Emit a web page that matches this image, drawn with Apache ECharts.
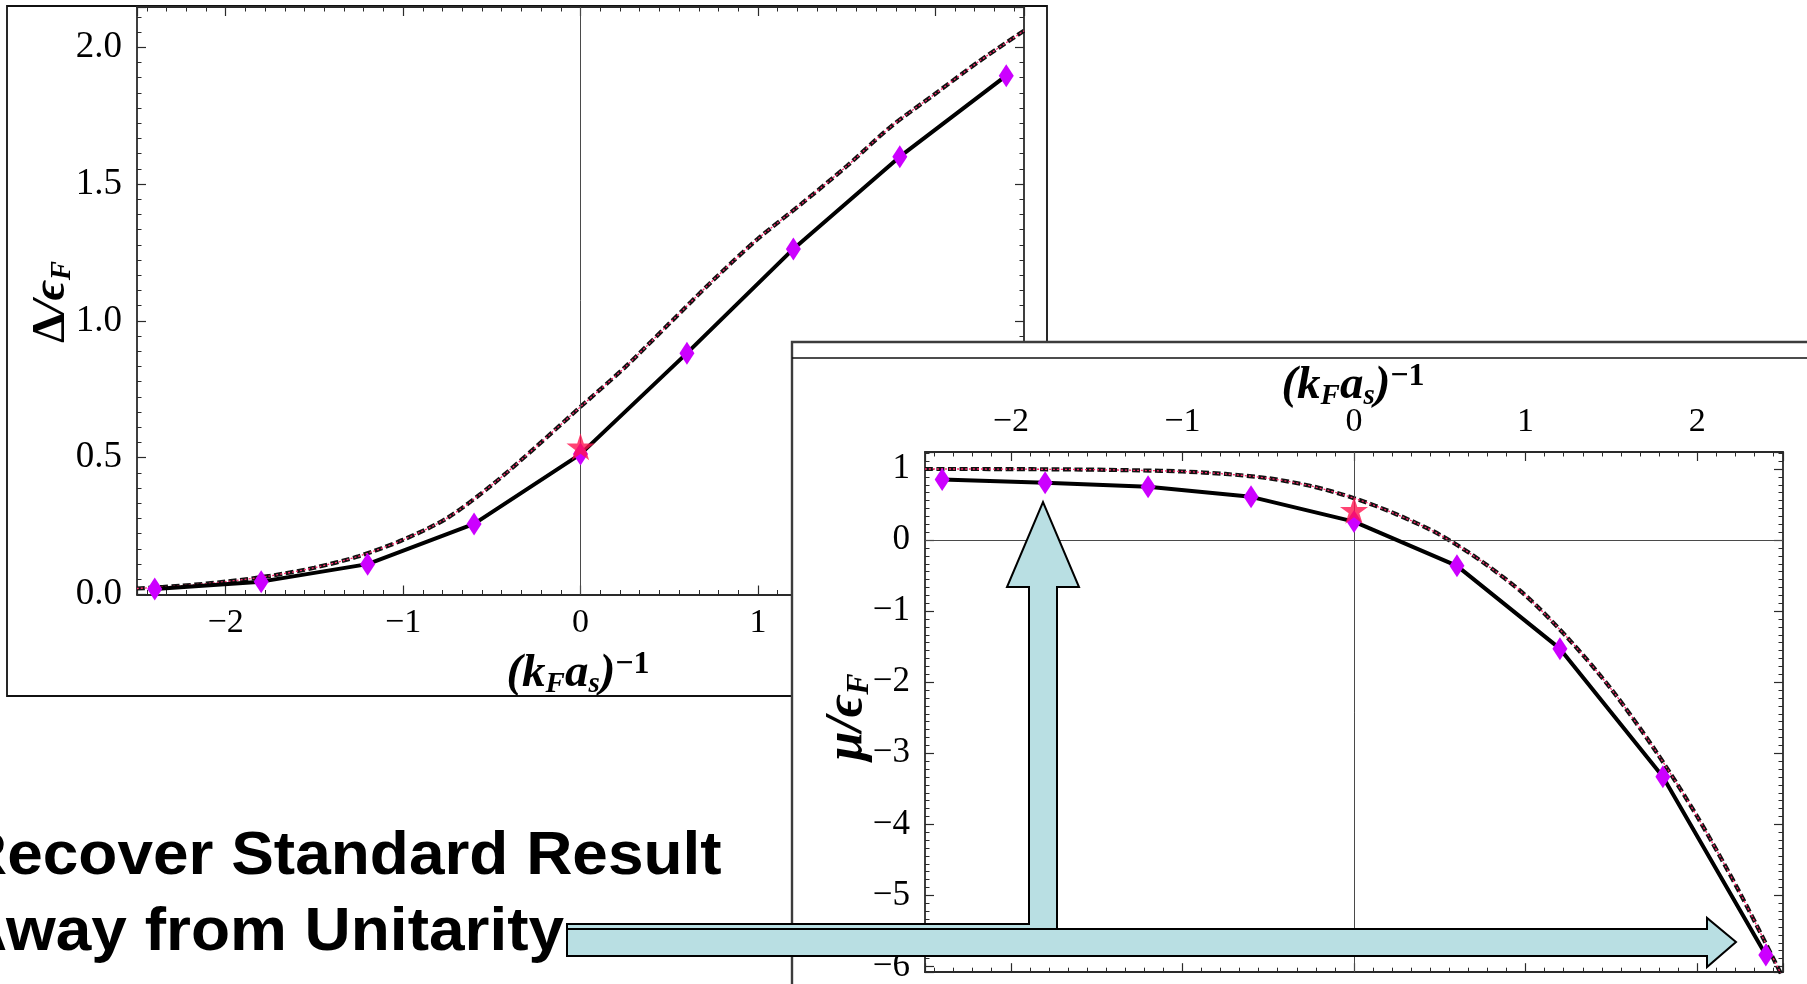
<!DOCTYPE html>
<html>
<head>
<meta charset="utf-8">
<script src="https://cdn.jsdelivr.net/npm/echarts@6/dist/echarts.min.js"></script>
<style>
  html, body { margin: 0; padding: 0; background: #fff; overflow: hidden; }
  #gapChart, #muChart { position: absolute; left: 0; top: 0; width: 1807px; height: 984px; }
</style>
</head>
<body>
<div id="gapChart"></div>
<div id="muChart"></div>
<script>
// ---- data -------------------------------------------------------------
// coupling (k_F a_s)^-1 at which the crossover was computed
const couplingPoints = [-2.4, -1.8, -1.2, -0.6, 0, 0.6, 1.2, 1.8, 2.4];
// gap Δ/ε_F at those couplings
const gapPoints = [0.020, 0.047, 0.111, 0.258, 0.513, 0.882, 1.263, 1.600, 1.896];
// chemical potential μ/ε_F at those couplings
const muPoints = [0.852, 0.806, 0.751, 0.608, 0.26, -0.363, -1.528, -3.33, -5.837];
// values at unitarity (star markers)
const unitarityGap = 0.54;
const unitarityMu = 0.42;
// mean-field reference curves
const meanFieldCoupling = [-2.5, -2.25, -2.0, -1.75, -1.5, -1.25, -1.0, -0.75, -0.5, -0.25, 0,
                           0.25, 0.5, 0.75, 1.0, 1.25, 1.5, 1.75, 2.0, 2.25, 2.5];
const meanFieldGap = [0.022, 0.032, 0.047, 0.068, 0.098, 0.14, 0.20, 0.28, 0.40, 0.54, 0.686,
                      0.83, 0.99, 1.15, 1.30, 1.43, 1.565, 1.71, 1.83, 1.95, 2.06];
const meanFieldMu = [1.0, 1.0, 0.998, 0.995, 0.99, 0.98, 0.965, 0.93, 0.87, 0.76, 0.59,
                     0.36, 0.075, -0.31, -0.78, -1.39, -2.10, -2.94, -3.89, -4.97, -6.16];
// tick labels
const couplingTicks = [-2, -1, 0, 1, 2];
const couplingTickLabels = ['\u22122', '\u22121', '0', '1', '2'];
const gapTicks = [0, 0.5, 1, 1.5, 2];
const gapTickLabels = ['0.0', '0.5', '1.0', '1.5', '2.0'];
const muTicks = [-6, -5, -4, -3, -2, -1, 0, 1];
const muTickLabels = ['\u22126', '\u22125', '\u22124', '\u22123', '\u22122', '\u22121', '0', '1'];

// ---- helpers ----------------------------------------------------------
const SERIF = '"Liberation Serif", "Times New Roman", serif';
const SANS = '"Liberation Sans", Arial, sans-serif';
const zip = (xs, ys) => xs.map((x, i) => [x, ys[i]]);
const lookup = (ticks, labels) => v => {
  const i = ticks.findIndex(t => Math.abs(t - v) < 1e-9);
  return i >= 0 ? labels[i] : '';
};
const STAR = 'path://M50,0 L61.8,36.2 L100,36.2 L69.1,58.6 L80.9,95 L50,72.6 L19.1,95 L30.9,58.6 L0,36.2 L38.2,36.2 Z';

function frameAxis(pos, min, max, step, split, labelCfg) {
  return {
    type: 'value', position: pos, min: min, max: max,
    minInterval: step, maxInterval: step, splitNumber: split,
    axisLine: { show: true, onZero: false, lineStyle: { color: '#2a2a2a', width: 1.8 } },
    axisTick: { show: true, inside: true, length: 9, lineStyle: { color: '#2a2a2a', width: 1.2 } },
    minorTick: { show: true, splitNumber: 9, length: 4.5, lineStyle: { color: '#2a2a2a', width: 1 } },
    splitLine: { show: false },
    axisLabel: labelCfg ? labelCfg : { show: false }
  };
}

function markerLine(data) {
  return {
    type: 'line', data: [], z: 1, silent: true,
    markLine: {
      silent: true, symbol: 'none', label: { show: false }, animation: false,
      lineStyle: { color: '#4a4a4a', width: 1, type: 'solid' },
      data: data
    }
  };
}

function curveSeries(xs, ys, xi, yi) {
  return [
    {
      type: 'line', data: zip(xs, ys), xAxisIndex: xi, yAxisIndex: yi,
      showSymbol: false, symbol: 'none', smooth: 0.3, z: 3, silent: true,
      lineStyle: { color: '#111', width: 4.2, type: [8, 3.5] }
    },
    {
      type: 'line', data: zip(xs, ys), xAxisIndex: xi, yAxisIndex: yi,
      showSymbol: false, symbol: 'none', smooth: 0.3, z: 4, silent: true,
      lineStyle: { color: '#ff2a6d', width: 1.3, type: [2, 2] }
    }
  ];
}

function pointSeries(xs, ys, star, xi, yi) {
  return [
    {
      type: 'line', data: zip(xs, ys), xAxisIndex: xi, yAxisIndex: yi,
      symbol: 'diamond', symbolSize: [15, 23], showSymbol: true, z: 5, silent: true,
      lineStyle: { color: '#000', width: 4 },
      itemStyle: { color: '#cc00ff', borderWidth: 0 }
    },
    {
      type: 'scatter', data: [[0, star]], xAxisIndex: xi, yAxisIndex: yi,
      symbol: STAR, symbolSize: [28, 27], z: 6, silent: true,
      itemStyle: { color: '#ff1450' }
    }
  ];
}

function axisTitle(x, y, rotation, main, size) {
  const sub = Math.round(size * 0.62);
  return {
    type: 'text', x: x, y: y, rotation: rotation, z: 50,
    style: {
      text: main, align: 'center', verticalAlign: 'middle',
      rich: {
        m: { fontFamily: SERIF, fontWeight: 'bold', fontStyle: 'italic', fontSize: size, lineHeight: size + 4, fill: '#000' },
        u: { fontFamily: SERIF, fontWeight: 'bold', fontSize: size, lineHeight: size + 4, fill: '#000' },
        s: { fontFamily: SERIF, fontWeight: 'bold', fontStyle: 'italic', fontSize: sub, lineHeight: sub + 4, verticalAlign: 'bottom', fill: '#000' },
        p: { fontFamily: SERIF, fontWeight: 'bold', fontSize: Math.round(size * 0.68), lineHeight: sub + 4, verticalAlign: 'top', fill: '#000' }
      }
    }
  };
}

// ---- Δ/ε_F panel --------------------------------------------------------
const gapChart = echarts.init(document.getElementById('gapChart'), null, { renderer: 'canvas' });
const xLabel1 = { show: true, margin: 12, fontFamily: SERIF, fontSize: 34, color: '#000', formatter: lookup(couplingTicks, couplingTickLabels) };
const yLabel1 = { show: true, margin: 15, fontFamily: SERIF, fontSize: 37, color: '#000', formatter: lookup(gapTicks, gapTickLabels) };
gapChart.setOption({
  animation: false,
  backgroundColor: '#fff',
  grid: { left: 137, top: 7, width: 887, height: 587.5 },
  xAxis: [
    frameAxis('bottom', -2.5, 2.5, 1, 5, xLabel1),
    frameAxis('top', -2.5, 2.5, 1, 5, null)
  ],
  yAxis: [
    frameAxis('left', 0, 2.147, 0.5, 4, yLabel1),
    frameAxis('right', 0, 2.147, 0.5, 4, null)
  ],
  series: [
    markerLine([{ xAxis: 0 }]),
    ...curveSeries(meanFieldCoupling, meanFieldGap, 0, 0),
    ...pointSeries(couplingPoints, gapPoints, unitarityGap, 0, 0)
  ],
  graphic: [
    { type: 'rect', shape: { x: 7, y: 6, width: 1040, height: 690 }, z: -10,
      style: { fill: 'none', stroke: '#111', lineWidth: 1.8 } },
    axisTitle(578, 674, 0, '{m|(k}{s|F}{m|a}{s|s}{m|)}{p|\u22121}', 47),
    axisTitle(52, 302, Math.PI / 2, '{u|\u0394}{m|/\u03f5}{s|F}', 47)
  ]
});

// ---- μ/ε_F panel with arrows and caption --------------------------------
const muChart = echarts.init(document.getElementById('muChart'), null, { renderer: 'canvas' });
const xLabel2 = { show: true, margin: 13, fontFamily: SERIF, fontSize: 34, color: '#000', formatter: lookup(couplingTicks, couplingTickLabels) };
const yLabel2 = { show: true, margin: 15, fontFamily: SERIF, fontSize: 35, color: '#000', formatter: lookup(muTicks, muTickLabels) };
const ARROW_FILL = '#b9dfe3';
muChart.setOption({
  animation: false,
  grid: { left: 925, top: 452, width: 858, height: 530 },
  xAxis: [
    frameAxis('top', -2.5, 2.5, 1, 5, xLabel2),
    frameAxis('bottom', -2.5, 2.5, 1, 5, null)
  ],
  yAxis: [
    frameAxis('left', -6.08, 1.239, 1, 7, yLabel2),
    frameAxis('right', -6.08, 1.239, 1, 7, null)
  ],
  series: [
    markerLine([{ xAxis: 0 }, { yAxis: 0 }]),
    ...curveSeries(meanFieldCoupling, meanFieldMu, 0, 0),
    ...pointSeries(couplingPoints, muPoints, unitarityMu, 0, 0)
  ],
  graphic: [
    { type: 'rect', shape: { x: 792, y: 342, width: 1100, height: 700 }, z: -100,
      style: { fill: '#fff', stroke: '#3c3c3c', lineWidth: 2.4 } },
    { type: 'line', shape: { x1: 792, y1: 358, x2: 1807, y2: 358 }, z: -99,
      style: { stroke: '#111', lineWidth: 1.6 } },
    axisTitle(1353, 386, 0, '{m|(k}{s|F}{m|a}{s|s}{m|)}{p|\u22121}', 47),
    axisTitle(848, 717, Math.PI / 2, '{m|\u03bc/\u03f5}{s|F}', 52),
    { type: 'polygon', z: 100,
      shape: { points: [[567, 924], [1029, 924], [1029, 587], [1007, 587], [1043, 502], [1079, 587], [1057, 587], [1057, 945], [567, 945]] },
      style: { fill: ARROW_FILL, stroke: '#000', lineWidth: 2 } },
    { type: 'polygon', z: 101,
      shape: { points: [[567, 929], [1707, 929], [1707, 918], [1736, 942], [1707, 967], [1707, 956], [567, 956]] },
      style: { fill: ARROW_FILL, stroke: '#000', lineWidth: 2 } },
    { type: 'text', x: -39, y: 857, scaleX: 1.04, z: 102,
      style: { text: 'Recover Standard Result', font: 'bold 61.5px ' + SANS, fill: '#000', verticalAlign: 'middle' } },
    { type: 'text', x: -39, y: 933, scaleX: 1.04, z: 102,
      style: { text: 'Away from Unitarity', font: 'bold 61.5px ' + SANS, fill: '#000', verticalAlign: 'middle' } }
  ]
});
</script>
</body>
</html>
